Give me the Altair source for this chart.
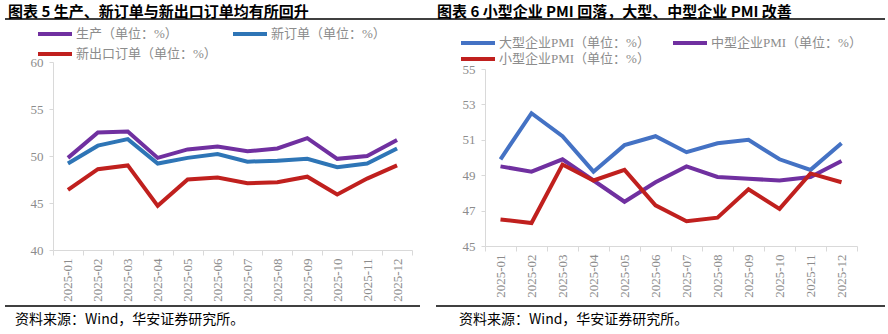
import altair as alt
import pandas as pd

months = ["2025-01", "2025-02", "2025-03", "2025-04", "2025-05", "2025-06",
          "2025-07", "2025-08", "2025-09", "2025-10", "2025-11", "2025-12"]

# Left panel series
production = [49.8, 52.5, 52.6, 49.8, 50.7, 51.0, 50.5, 50.8, 51.9, 49.7, 50.0, 51.7]
new_orders = [49.2, 51.1, 51.8, 49.2, 49.8, 50.2, 49.4, 49.5, 49.7, 48.8, 49.2, 50.8]
export_orders = [46.4, 48.6, 49.0, 44.7, 47.5, 47.7, 47.1, 47.2, 47.8, 45.9, 47.6, 49.0]

# Right panel series
large_pmi = [49.9, 52.5, 51.2, 49.2, 50.7, 51.2, 50.3, 50.8, 51.0, 49.9, 49.3, 50.8]
medium_pmi = [49.5, 49.2, 49.9, 48.7, 47.5, 48.6, 49.5, 48.9, 48.8, 48.7, 48.9, 49.8]
small_pmi = [46.5, 46.3, 49.6, 48.7, 49.3, 47.3, 46.4, 46.6, 48.2, 47.1, 49.1, 48.6]

left_names = ["生产（单位：%）", "新订单（单位：%）", "新出口订单（单位：%）"]
right_names = ["大型企业PMI（单位：%）", "中型企业PMI（单位：%）", "小型企业PMI（单位：%）"]

left_title = "图表 5  生产、新订单与新出口订单均有所回升"
right_title = "图表 6  小型企业 PMI 回落，大型、中型企业 PMI 改善"
source_text = "资料来源：Wind，华安证券研究所。"

left_ticks = [40, 45, 50, 55, 60]
right_ticks = [45, 47, 49, 51, 53, 55]

GRAY = "#8c8c8c"
AXIS = "#d9d9d9"
SERIF = "Liberation Serif, Noto Sans CJK SC"
CJK = "Noto Sans CJK SC"
LEGEND_SYMBOL = "M-3.4,0H3.4"


def long_df(names, series):
    rows = []
    for n, s in zip(names, series):
        for m, v in zip(months, s):
            rows.append({"month": m, "series": n, "value": v})
    return pd.DataFrame(rows)


def panel(df, names, colors, ydomain, yticks, width, height, yrange,
          lx, ly, colpad, rowpad, title, title_x, top_line, bottom_line,
          src_x, extra=None):
    base = alt.Chart(df).mark_line(strokeWidth=4, strokeCap="butt", strokeJoin="miter").encode(
        x=alt.X("month:N", sort=months, bandPosition=0.5,
                scale=alt.Scale(type="band", paddingInner=0, paddingOuter=0),
                axis=alt.Axis(title=None, labelAngle=-90, tickBand="extent",
                              labelFont=SERIF, labelFontSize=13, labelColor=GRAY,
                              domainColor=AXIS, tickColor=AXIS, tickSize=5,
                              labelPadding=3, grid=False)),
        y=alt.Y("value:Q",
                scale=alt.Scale(domain=ydomain, range=yrange, nice=False, zero=False),
                axis=alt.Axis(title=None, values=yticks, labelFont=SERIF,
                              labelFontSize=13, labelColor=GRAY, domainColor=AXIS,
                              tickColor=AXIS, tickSize=4, labelPadding=6, grid=False)),
        color=alt.Color("series:N", sort=names,
                        scale=alt.Scale(domain=names, range=colors),
                        legend=alt.Legend(title=None, orient="none", legendX=lx, legendY=ly,
                                          direction="horizontal",
                                          columns=2, symbolType=LEGEND_SYMBOL,
                                          symbolStrokeWidth=4, symbolSize=100,
                                          labelFont=SERIF, labelFontSize=13,
                                          labelColor=GRAY, labelOffset=14,
                                          columnPadding=colpad, rowPadding=rowpad,
                                          padding=0)),
    ).properties(width=width, height=height)

    tdf = pd.DataFrame({"t": [title]})
    title_mark = alt.Chart(tdf).mark_text(
        font=CJK, fontSize=15, fontWeight="bold", color="#000000",
        align="left", baseline="middle").encode(
        text="t:N", x=alt.value(title_x), y=alt.value(-50))

    sdf = pd.DataFrame({"t": [source_text]})
    src_mark = alt.Chart(sdf).mark_text(
        font=CJK, fontSize=14, color="#000000",
        align="left", baseline="middle").encode(
        text="t:N", x=alt.value(src_x), y=alt.value(258))

    line1 = alt.Chart(tdf).mark_rule(color="#000000", strokeWidth=1.5).encode(
        x=alt.value(top_line[0]), x2=alt.value(top_line[1]), y=alt.value(-43))
    line2 = alt.Chart(tdf).mark_rule(color="#000000", strokeWidth=1.5).encode(
        x=alt.value(bottom_line[0]), x2=alt.value(bottom_line[1]), y=alt.value(244))

    layers = [base, title_mark, src_mark, line1, line2]
    if extra is not None:
        layers.append(extra)
    return alt.layer(*layers)


left_df = long_df(left_names, [production, new_orders, export_orders])
right_df = long_df(right_names, [large_pmi, medium_pmi, small_pmi])

# invisible frame that fixes the whole page to 888 x 334
frame = alt.Chart(pd.DataFrame({"t": [0]})).mark_rule(strokeOpacity=0, strokeWidth=0).encode(
    x=alt.value(-53), x2=alt.value(835), y=alt.value(-62), y2=alt.value(272))

left = panel(left_df, left_names, ["#7030A0", "#2E75B6", "#C0201E"],
             [40, 60], left_ticks, 359, 188, [188, 0],
             -5, -35, 8, 4, left_title, -45, (-48, 377), (-48, 367), -38, extra=frame)

right = panel(right_df, right_names, ["#4472C4", "#7030A0", "#C0201E"],
              [45, 55], right_ticks, 372, 184, [184, 7],
              -14, -26, 15, 0, right_title, -48, (-55, 400), (-49, 400), -26)

chart = alt.hconcat(left, right, spacing=73, bounds="flush").resolve_scale(
    color="independent"
).properties(
    padding=0, background="white"
).configure_view(stroke=None)

chart.save("out.html", embed_options={"renderer": "svg", "actions": False})
